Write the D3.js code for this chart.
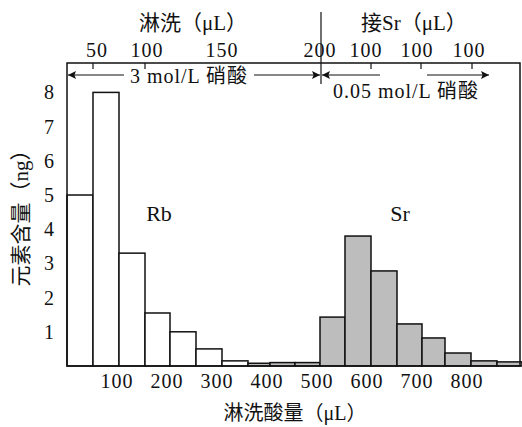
<!DOCTYPE html>
<html>
<head>
<meta charset="utf-8">
<script src="https://cdn.jsdelivr.net/npm/d3@7"></script>
<style>
  body { margin: 0; background: #fff; }
  text { font-family: "Liberation Serif", "Noto Sans CJK SC", serif; fill: #111; }
  .num { letter-spacing: 1px; }
</style>
</head>
<body>
<div id="graph"></div>
<script>
// fraction boundaries along the eluent axis (µL)
const binEdges = [0, 52, 104, 156, 206, 258, 310, 362, 406, 456, 506, 556, 608, 660, 710, 756, 808, 860, 910];
// element amount per fraction (ng)
const amounts = [5.0, 8.0, 3.3, 1.55, 1.0, 0.5, 0.15, 0.08, 0.1, 0.1, 1.43, 3.8, 2.78, 1.23, 0.82, 0.38, 0.15, 0.12];
// which element each fraction is shown as
const element = ["Rb","Rb","Rb","Rb","Rb","Rb","Rb","Sr","Sr","Sr","Sr","Sr","Sr","Sr","Sr","Sr","Sr","Sr"];

const bottomTicks = [100, 200, 300, 400, 500, 600, 700, 800];
const yTicks = [1, 2, 3, 4, 5, 6, 7, 8];

// top axis: step boundaries and the volume of each step
const topTickPos = [52, 156, 608, 708, 810];
const topLabelPos = [60, 160, 310, 506, 598, 700, 804];
const topLabels = ["50", "100", "150", "200", "100", "100", "100"];
const dividerPos = 508;

const width = 522, height = 427;
const mLeft = 67, mRight = 520, mTop = 63, mBottom = 366;

const x = d3.scaleLinear().domain([0, 906]).range([mLeft, mRight]);
const y = d3.scaleLinear().domain([0, 8.86]).range([mBottom, mTop]);

const svg = d3.select("#graph").append("svg")
    .attr("width", width)
    .attr("height", height);

//arrow marker
svg.append("defs").append("marker")
    .attr("id", "arr")
    .attr("viewBox", "0 0 10 10")
    .attr("refX", 10).attr("refY", 5)
    .attr("markerWidth", 11).attr("markerHeight", 8)
    .attr("markerUnits", "userSpaceOnUse")
    .attr("orient", "auto-start-reverse")
    .append("path")
    .attr("d", "M0,0 L10,5 L0,10 L2,5 Z")
    .attr("fill", "#111");

//bars
const bars = amounts.map(function(v, i){
    return { x0: binEdges[i], x1: binEdges[i + 1], v: v, el: element[i] };
});

svg.append("g").selectAll("rect")
    .data(bars)
    .enter().append("rect")
    .attr("x", function(d){ return x(d.x0); })
    .attr("y", function(d){ return y(d.v); })
    .attr("width", function(d){ return x(d.x1) - x(d.x0); })
    .attr("height", function(d){ return y(0) - y(d.v); })
    .attr("fill", function(d){ return d.el === "Sr" ? "#bdbdbd" : "#fff"; })
    .attr("stroke", "#111")
    .attr("stroke-width", 1.5);

//frame
svg.append("rect")
    .attr("x", mLeft).attr("y", mTop)
    .attr("width", mRight - mLeft).attr("height", mBottom - mTop)
    .attr("fill", "none")
    .attr("stroke", "#111")
    .attr("stroke-width", 1.5);

//bottom axis labels
svg.append("g").selectAll("text")
    .data(bottomTicks)
    .enter().append("text")
    .attr("class", "num")
    .attr("x", function(d){ return x(d); })
    .attr("y", 388)
    .attr("text-anchor", "middle")
    .attr("font-size", "20px")
    .text(function(d){ return d; });

//y axis labels
svg.append("g").selectAll("text")
    .data(yTicks)
    .enter().append("text")
    .attr("x", 49)
    .attr("y", function(d){ return y(d) + 7; })
    .attr("text-anchor", "middle")
    .attr("font-size", "20px")
    .text(function(d){ return d; });

//top ticks
svg.append("g").selectAll("line")
    .data(topTickPos)
    .enter().append("line")
    .attr("x1", function(d){ return x(d); })
    .attr("x2", function(d){ return x(d); })
    .attr("y1", mTop)
    .attr("y2", mTop + 6)
    .attr("stroke", "#111")
    .attr("stroke-width", 1.2);

//top labels
svg.append("g").selectAll("text")
    .data(topLabelPos)
    .enter().append("text")
    .attr("class", "num")
    .attr("x", function(d){ return x(d); })
    .attr("y", 57)
    .attr("text-anchor", "middle")
    .attr("font-size", "20px")
    .text(function(d, i){ return topLabels[i]; });

//divider
svg.append("line")
    .attr("x1", x(dividerPos)).attr("x2", x(dividerPos))
    .attr("y1", 12).attr("y2", 84)
    .attr("stroke", "#111")
    .attr("stroke-width", 1.2);

//top titles
svg.append("text")
    .attr("x", 193).attr("y", 30)
    .attr("text-anchor", "middle")
    .attr("font-size", "21px")
    .text("淋洗（μL）");

svg.append("text")
    .attr("x", 414).attr("y", 30)
    .attr("text-anchor", "middle")
    .attr("font-size", "21px")
    .text("接Sr（μL）");

//acid arrows
const arrowY = 75;
function arrow(xa, xb){
    svg.append("line")
        .attr("x1", xa).attr("x2", xb)
        .attr("y1", arrowY).attr("y2", arrowY)
        .attr("stroke", "#111")
        .attr("stroke-width", 1.2)
        .attr("marker-end", "url(#arr)");
}
arrow(124, mLeft + 1);
arrow(254, x(dividerPos) - 1);
arrow(380, x(dividerPos) + 1);
arrow(427, 489);

svg.append("text")
    .attr("class", "num")
    .attr("x", 189).attr("y", 83)
    .attr("text-anchor", "middle")
    .attr("font-size", "20px")
    .text("3 mol/L 硝酸");

svg.append("text")
    .attr("class", "num")
    .attr("x", 406).attr("y", 98)
    .attr("text-anchor", "middle")
    .attr("font-size", "20px")
    .text("0.05 mol/L 硝酸");

//element labels
svg.append("text")
    .attr("x", 159).attr("y", 221)
    .attr("text-anchor", "middle")
    .attr("font-size", "22px")
    .text("Rb");

svg.append("text")
    .attr("x", 400).attr("y", 221)
    .attr("text-anchor", "middle")
    .attr("font-size", "22px")
    .text("Sr");

//axis titles
svg.append("text")
    .attr("x", 295).attr("y", 420)
    .attr("text-anchor", "middle")
    .attr("font-size", "20px")
    .text("淋洗酸量（μL）");

svg.append("text")
    .attr("transform", "translate(28, 213) rotate(-90)")
    .attr("text-anchor", "middle")
    .attr("font-size", "21px")
    .text("元素含量（ng）");
</script>
</body>
</html>
